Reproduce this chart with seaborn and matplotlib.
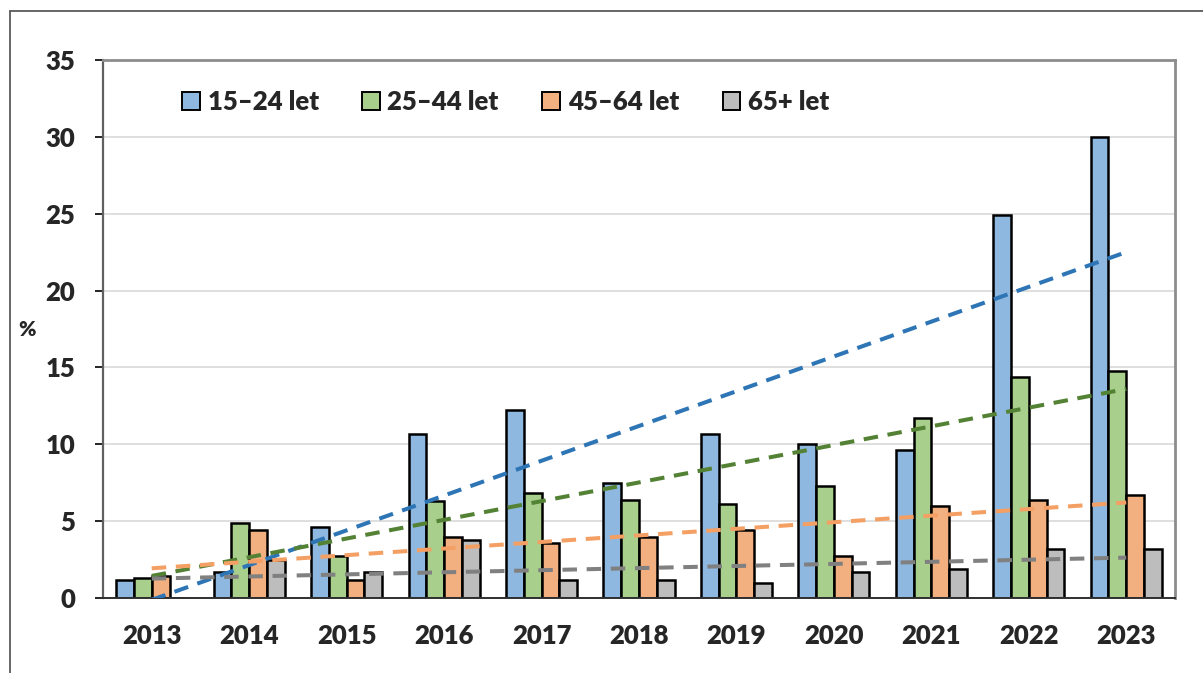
import numpy as np
import pandas as pd
import seaborn as sns
import matplotlib.pyplot as plt
from matplotlib.patches import Patch
from matplotlib.lines import Line2D

years = ['2013', '2014', '2015', '2016', '2017', '2018', '2019', '2020', '2021', '2022', '2023']
groups = ['15–24 let', '25–44 let', '45–64 let', '65+ let']
v_15_24 = [1.2, 1.7, 4.6, 10.7, 12.2, 7.5, 10.7, 10.0, 9.6, 24.9, 30.0]
v_25_44 = [1.3, 4.9, 2.7, 6.3, 6.8, 6.4, 6.1, 7.3, 11.7, 14.4, 14.8]
v_45_64 = [1.4, 4.4, 1.2, 4.0, 3.6, 4.0, 4.4, 2.7, 6.0, 6.4, 6.7]
v_65 = [0.0, 2.5, 1.7, 3.8, 1.2, 1.2, 1.0, 1.7, 1.9, 3.2, 3.2]

bar_colors = ['#8EB8E0', '#A8D08C', '#F2AF80', '#BDBDBD']
trend_colors = ['#2E75B6', '#548235', '#F4A064', '#808080']

sns.set_style('white')
plt.rcParams['font.family'] = ['Lato', 'DejaVu Sans']
plt.rcParams['font.weight'] = 'heavy'

series = [v_15_24, v_25_44, v_45_64, v_65]
df = pd.DataFrame({
    'year': years * 4,
    'group': np.repeat(groups, len(years)),
    'value': np.concatenate(series),
})

fig = plt.figure(figsize=(12.03, 6.73), dpi=100)
ax = fig.add_axes([103 / 1203, 75 / 673, 1072 / 1203, 538 / 673])

sns.barplot(data=df, x='year', y='value', hue='group', palette=bar_colors,
            saturation=1, width=0.73, edgecolor='black', linewidth=1.8,
            legend=False, ax=ax, zorder=2)

# linear trendlines (Excel style)
xs = np.arange(len(years))
for vals, c in zip(series, trend_colors):
    k, b = np.polyfit(xs, vals, 1)
    ax.plot([0, len(years) - 1], [b, k * (len(years) - 1) + b], color=c, lw=2.9,
            ls=(0, (3.6, 2.4)), zorder=3)

ax.set_xlim(-0.5, len(years) - 0.5)
ax.set_ylim(0, 35)
ax.set_yticks(range(0, 36, 5))
ax.yaxis.grid(True, color='#D9D9D9', lw=1.2)
ax.set_axisbelow(True)
ax.set_xlabel('')
ax.set_ylabel('')

ax.set_xticks(np.arange(-0.5, len(years), 1), minor=True)
ax.tick_params(axis='x', which='major', length=0, pad=19, labelsize=18.5)
ax.tick_params(axis='x', which='minor', length=6, width=1.2, color='#404040', direction='out')
ax.tick_params(axis='y', length=6, width=1.2, color='black', direction='out', pad=14, labelsize=18.5)
ax.tick_params(left=True, bottom=True)
for lab in ax.get_xticklabels() + ax.get_yticklabels():
    lab.set_fontweight('heavy')

ax.spines['left'].set_color('#606060')
ax.spines['left'].set_linewidth(1.6)
ax.spines['bottom'].set_color('#303030')
ax.spines['bottom'].set_linewidth(1.4)
for s in ['top', 'right']:
    ax.spines[s].set_color('#8C8C8C')
    ax.spines[s].set_linewidth(2.0)

handles = [Patch(facecolor=c, edgecolor='black', lw=1.4) for c in bar_colors]
ax.legend(handles, groups, loc='center left', bbox_to_anchor=(0.074, 0.922),
          ncol=4, frameon=False, handlelength=0.68, handleheight=0.68,
          handletextpad=0.3, columnspacing=1.7, borderaxespad=0, borderpad=0,
          prop={'weight': 'heavy', 'size': 18.5})

fig.text(18 / 1203, 1 - 330 / 673, '%', fontsize=15, fontweight='heavy', va='center')

# outer chart frame
fx, fy = 10 / 1203, 1 - 11 / 673
fig.add_artist(Line2D([fx, fx], [0, fy], color='#5A5A5A', lw=1.3))
fig.add_artist(Line2D([fx, 1], [fy, fy], color='#5A5A5A', lw=1.3))

fig.savefig('out.png', dpi=100)
